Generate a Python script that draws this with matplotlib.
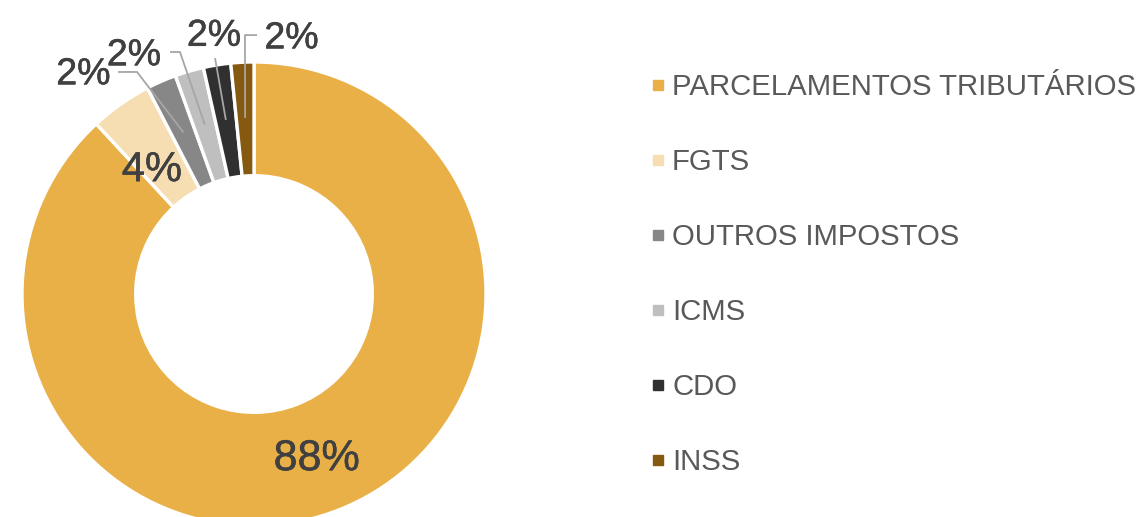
import matplotlib
matplotlib.use("Agg")
import matplotlib.pyplot as plt
import matplotlib.patheffects as pe
import numpy as np

plt.rcParams['font.family'] = ['Liberation Sans', 'DejaVu Sans']

categories = ["PARCELAMENTOS TRIBUTÁRIOS", "FGTS", "OUTROS IMPOSTOS", "ICMS", "CDO", "INSS"]
values = [88.1, 4.3, 2.1, 2.0, 1.9, 1.6]
colors = ["#EAB048", "#F6DEB2", "#878787", "#BFBFBF", "#303030", "#85590F"]

# label layout (data units, pie radius = 1)
label_pos = [(0.27, -0.712), (-0.44, 0.534), (-0.735, 0.947), (-0.517, 1.029), (-0.172, 1.113), (0.162, 1.102)]
label_size = [31, 30, 27, 27, 27, 27]
# leader-line label-side points (None = no leader)
leader_pts = [None, None,
              [(-0.586, 0.957), (-0.504, 0.957)],
              [(-0.362, 1.043), (-0.319, 1.043)],
              [(-0.168, 1.017)],
              [(0.013, 1.116), (-0.039, 1.116)]]

W, H = 1142, 517
cx, cy, R = 254, 294, 232
fig = plt.figure(figsize=(W / 100, H / 100), dpi=100)
ax = fig.add_axes([0, 0, 1, 1])

wedges, _ = ax.pie(values, colors=colors, startangle=90, counterclock=False, radius=1,
                   wedgeprops=dict(width=0.49, edgecolor='white', linewidth=2.4))

ax.set_xlim(-cx / R, (W - cx) / R)
ax.set_ylim((cy - H) / R, cy / R)
ax.set_aspect('auto')
ax.axis('off')

total = sum(values)
for i, w in enumerate(wedges):
    mid = np.deg2rad((w.theta1 + w.theta2) / 2)
    pct = f"{round(values[i] / total * 100):d}%"
    tx, ty = label_pos[i]
    ax.text(tx, ty, pct, fontsize=label_size[i], color="#404040", ha='center', va='center',
            path_effects=[pe.withStroke(linewidth=0.4, foreground="#404040")])
    if leader_pts[i] is not None:
        end = (0.76 * np.cos(mid), 0.76 * np.sin(mid))
        pts = list(leader_pts[i]) + [end]
        xs = [p[0] for p in pts]
        ys = [p[1] for p in pts]
        ax.plot(xs, ys, color="#A6A6A6", lw=1.3, solid_capstyle='butt')

# legend
for i, (cat, col) in enumerate(zip(categories, colors)):
    py = 86 + 75 * i
    fig.patches.append(plt.Rectangle((653 / W, 1 - (py + 4) / H), 10 / W, 10 / H,
                                     transform=fig.transFigure, color=col, figure=fig))
    fig.text(672 / W, 1 - (py + 1) / H, cat, fontsize=21.2, color="#595959", ha='left', va='center')

fig.savefig("out.png", dpi=100)
